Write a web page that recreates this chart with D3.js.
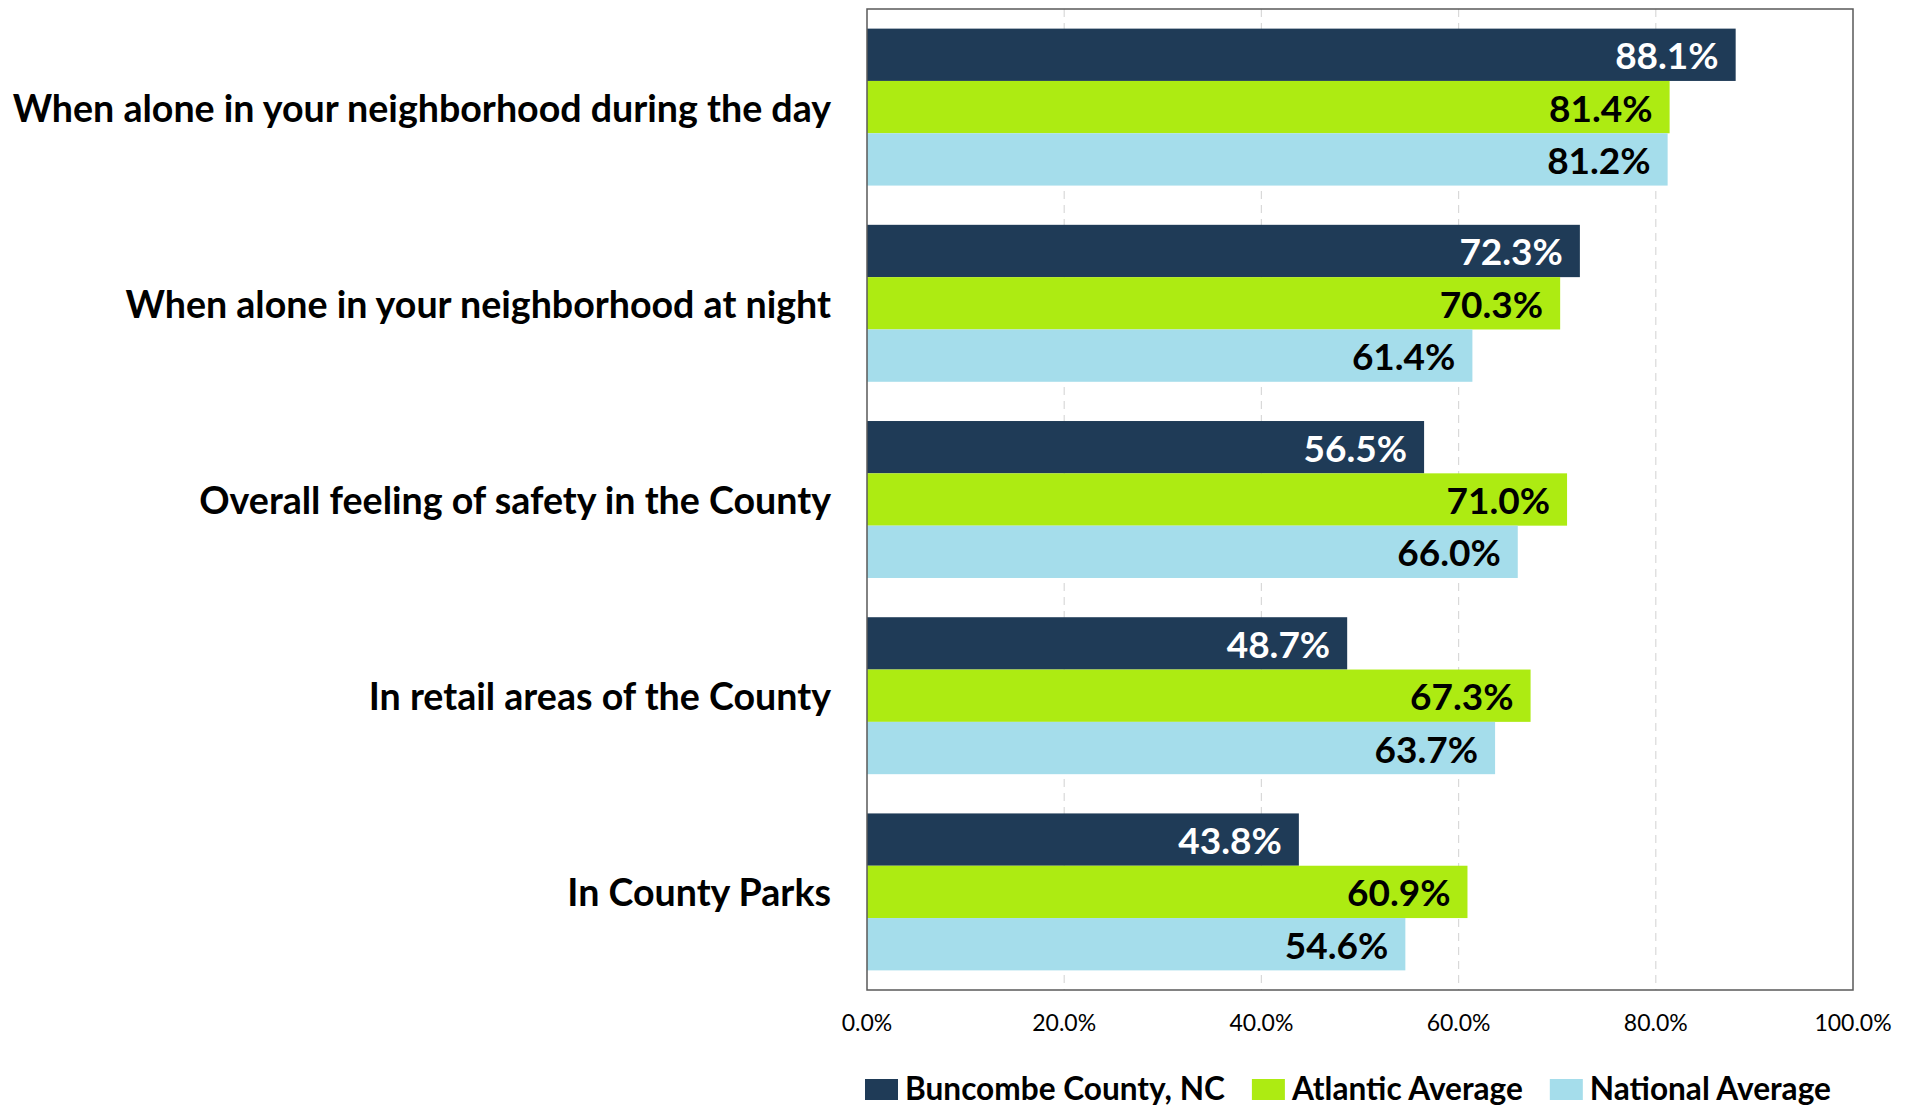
<!DOCTYPE html>
<html>
<head>
<meta charset="utf-8">
<script src="https://cdn.jsdelivr.net/npm/d3@7"></script>
<style>
  html, body { margin: 0; padding: 0; background: #fff; }
  svg { display: block; }
</style>
</head>
<body>
<svg id="chart" width="1916" height="1108"></svg>
<script>
const categories = [
  "When alone in your neighborhood during the day",
  "When alone in your neighborhood at night",
  "Overall feeling of safety in the County",
  "In retail areas of the County",
  "In County Parks"
];
const seriesNames = ["Buncombe County, NC", "Atlantic Average", "National Average"];
const buncombe = [88.1, 72.3, 56.5, 48.7, 43.8];
const atlantic = [81.4, 70.3, 71.0, 67.3, 60.9];
const national = [81.2, 61.4, 66.0, 63.7, 54.6];
const tickValues = [0, 20, 40, 60, 80, 100];

const seriesValues = [buncombe, atlantic, national];
const colors = ["#1F3B57", "#ADEB12", "#A5DDEB"];
const labelColors = ["#FFFFFF", "#000000", "#000000"];

const svg = d3.select("#chart");
const plotLeft = 867, plotRight = 1853, plotTop = 9, plotBottom = 990;

const x = d3.scaleLinear().domain([0, 100]).range([plotLeft, plotRight]);
const y = d3.scaleBand().domain(categories).range([plotTop, plotBottom]).paddingInner(0.2).paddingOuter(0.1);
const ySub = d3.scaleBand().domain(seriesNames).range([0, y.bandwidth()]);

// gridlines
svg.append("g").selectAll("line").data(tickValues.filter(v => v > 0 && v < 100)).join("line")
  .attr("x1", d => x(d)).attr("x2", d => x(d))
  .attr("y1", plotTop).attr("y2", plotBottom)
  .attr("stroke", "#D9D9D9").attr("stroke-width", 1.2)
  .attr("stroke-dasharray", "8,6");

// bars
const groups = svg.append("g").selectAll("g").data(categories).join("g")
  .attr("transform", d => `translate(0,${y(d)})`);

groups.each(function(cat, ci) {
  const g = d3.select(this);
  seriesNames.forEach((s, si) => {
    const v = seriesValues[si][ci];
    g.append("rect")
      .attr("x", x(0)).attr("y", ySub(s))
      .attr("width", x(v) - x(0)).attr("height", ySub.bandwidth())
      .attr("fill", colors[si]);
    g.append("text")
      .attr("x", x(v) - 17)
      .attr("y", ySub(s) + ySub.bandwidth() / 2 + 14.5)
      .attr("text-anchor", "end")
      .attr("font-family", "Lato, 'Open Sans', sans-serif")
      .attr("font-weight", "bold")
      .attr("font-size", 37)
      .attr("fill", labelColors[si])
      .text(v.toFixed(1) + "%");
  });
});

// frame
svg.append("rect")
  .attr("x", plotLeft).attr("y", plotTop).attr("width", plotRight - plotLeft).attr("height", plotBottom - plotTop)
  .attr("fill", "none").attr("stroke", "#595959").attr("stroke-width", 1.5);

// category labels
svg.append("g").selectAll("text").data(categories).join("text")
  .attr("x", 831)
  .attr("y", d => y(d) + y.bandwidth() / 2 + 14.5)
  .attr("text-anchor", "end")
  .attr("font-family", "Lato, 'Open Sans', sans-serif")
  .attr("font-weight", "bold")
  .attr("font-size", 37.6)
  .attr("fill", "#000")
  .text(d => d);

// x axis tick labels
svg.append("g").selectAll("text").data(tickValues).join("text")
  .attr("x", d => x(d))
  .attr("y", 1031)
  .attr("text-anchor", "middle")
  .attr("font-family", "Lato, 'Open Sans', sans-serif")
  .attr("font-size", 23)
  .attr("fill", "#000")
  .text(d => d.toFixed(1) + "%");

// legend
const legend = svg.append("g");
let lx = 865;
seriesNames.forEach((s, i) => {
  legend.append("rect").attr("x", lx).attr("y", 1079).attr("width", 33).attr("height", 21).attr("fill", colors[i]);
  const t = legend.append("text")
    .attr("x", lx + 40).attr("y", 1100)
    .attr("font-family", "Lato, 'Open Sans', sans-serif")
    .attr("font-weight", "bold")
    .attr("font-size", 31.6)
    .attr("fill", "#000")
    .text(s);
  lx = lx + 40 + t.node().getComputedTextLength() + 27;
});
</script>
</body>
</html>
